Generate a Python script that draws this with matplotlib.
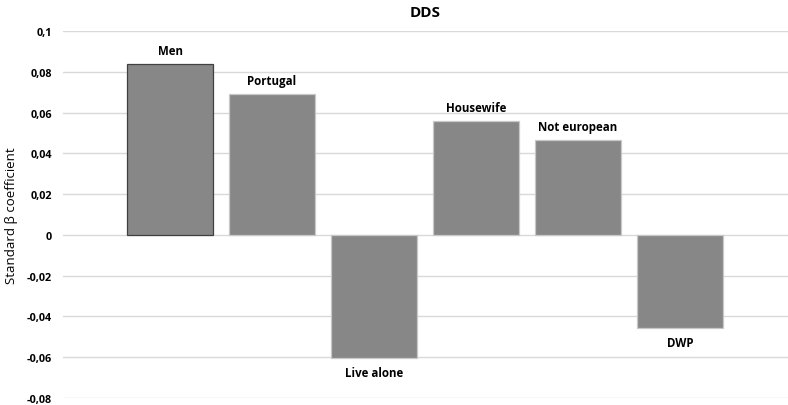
import numpy as np
import matplotlib.pyplot as plt

# values

categories = ['Men', 'Portugal', 'Live alone', 'Housewife', 'Not european', 'DWP']
values = [0.0838, 0.0691, -0.0603, 0.0559, 0.0466, -0.0456]
yticks = [-0.08, -0.06, -0.04, -0.02, 0, 0.02, 0.04, 0.06, 0.08, 0.1]
ytick_labels = ['-0,08', '-0,06', '-0,04', '-0,02', '0', '0,02', '0,04', '0,06', '0,08', '0,1']

plt.rcParams['font.family'] = ['Open Sans', 'DejaVu Sans']

fig = plt.figure(figsize=(7.88, 4.06), dpi=100)
ax = fig.add_axes([63 / 788, 7 / 406, 1 - 63 / 788, 367 / 406])

x = np.arange(len(categories))
edges = ['#404040'] + ['#c8c8c8'] * (len(categories) - 1)
bars = ax.bar(x, values, width=0.84, color='#878787', edgecolor=edges, linewidth=0.9, zorder=3)

# labels above positive bars, below negative ones
for xi, v, name in zip(x, values, categories):
    if v >= 0:
        ax.annotate(name, (xi, v), xytext=(0, 5), textcoords='offset points',
                    ha='center', va='bottom', fontsize=8.3, fontweight='bold')
    else:
        ax.annotate(name, (xi, v), xytext=(0, -6), textcoords='offset points',
                    ha='center', va='top', fontsize=8.3, fontweight='bold')

ax.set_xlim(-1.05, 6.06)
ax.set_ylim(-0.08, 0.1)
ax.set_yticks(yticks)
ax.set_yticklabels(ytick_labels, fontsize=7.8, fontweight='bold')
ax.set_xticks([])
ax.tick_params(axis='y', length=0, pad=8)
ax.yaxis.grid(True, color='#d9d9d9', linewidth=1, zorder=0)
for s in ax.spines.values():
    s.set_visible(False)

ax.set_ylabel('Standard β coefficient', fontsize=9.5, labelpad=6)
ax.set_title('DDS', fontsize=11, fontweight='bold', pad=11)

fig.savefig('out.png', dpi=100)
